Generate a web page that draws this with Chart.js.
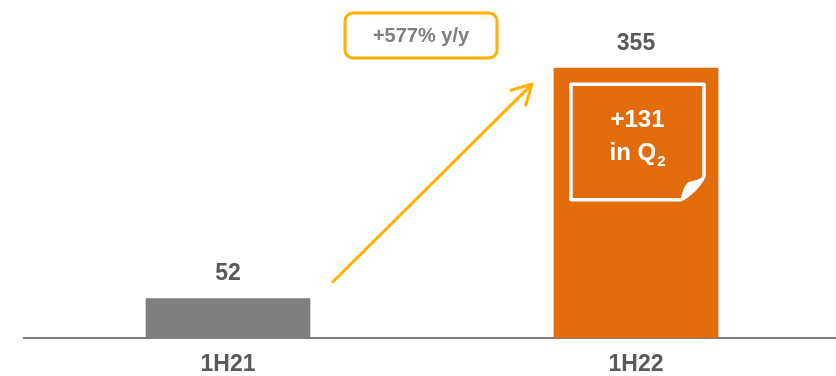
<!DOCTYPE html>
<html>
<head>
<meta charset="utf-8">
<script src="https://cdn.jsdelivr.net/npm/chart.js@4/dist/chart.umd.min.js"></script>
<style>
  html, body { margin: 0; padding: 0; background: #fff; }
  canvas { display: block; }
</style>
</head>
<body>
<canvas id="half-chart" width="836" height="376"></canvas>
<script>
// data
const periods = ['1H21', '1H22']
const values = [52, 355]
const barColors = ['#7f7f7f', '#e36c0a']
const growthLabel = '+577% y/y'
const noteLines = ['+131', 'in Q', '2']

const FONT = '"Liberation Sans", Arial, sans-serif'
const GREY_TEXT = '#595959'
const ARROW = '#ffb000'

// the category axis runs a bit past the right edge of the canvas
const widenAxis = {
  id: 'widenAxis',
  afterLayout(chart) {
    const x = chart.scales.x
    x.right = 840
    x.width = x.right - x.left
    x.configure()
  }
}

// value labels above each bar
const valueLabels = {
  id: 'valueLabels',
  afterDatasetsDraw(chart) {
    const ctx = chart.ctx
    const meta = chart.getDatasetMeta(0)
    ctx.save()
    ctx.font = 'bold 23px ' + FONT
    ctx.fillStyle = GREY_TEXT
    ctx.textAlign = 'center'
    ctx.textBaseline = 'middle'
    meta.data.forEach((bar, i) => {
      ctx.fillText(String(values[i]), bar.x, bar.y - 25)
    })
    ctx.restore()
  }
}

// growth arrow, the y/y box and the sticky note in the big bar
const callouts = {
  id: 'callouts',
  afterDatasetsDraw(chart) {
    const ctx = chart.ctx
    const y = chart.scales.y
    const meta = chart.getDatasetMeta(0)
    const b0 = meta.data[0], b1 = meta.data[1]

    // arrow
    const sx = b0.x + 105, sy = y.getPixelForValue(74)
    const ex = b1.x - 104, ey = y.getPixelForValue(334)
    ctx.save()
    ctx.strokeStyle = ARROW
    ctx.lineWidth = 3
    ctx.lineCap = 'round'
    ctx.lineJoin = 'round'
    ctx.beginPath()
    ctx.moveTo(sx, sy)
    ctx.lineTo(ex, ey)
    ctx.stroke()
    const ang = Math.atan2(ey - sy, ex - sx)
    const hl = 22
    ctx.beginPath()
    ctx.moveTo(ex + hl * Math.cos(ang + Math.PI - 0.5), ey + hl * Math.sin(ang + Math.PI - 0.5))
    ctx.lineTo(ex, ey)
    ctx.lineTo(ex + hl * Math.cos(ang + Math.PI + 0.5), ey + hl * Math.sin(ang + Math.PI + 0.5))
    ctx.stroke()

    // y/y box
    const bx = 345, by = 13, bw = 152, bh = 45
    ctx.lineWidth = 3
    ctx.beginPath()
    ctx.roundRect(bx, by, bw, bh, 8)
    ctx.fillStyle = '#fff'
    ctx.fill()
    ctx.stroke()
    ctx.font = 'bold 20px ' + FONT
    ctx.fillStyle = '#7f7f7f'
    ctx.textAlign = 'center'
    ctx.textBaseline = 'middle'
    ctx.fillText(growthLabel, bx + bw / 2, by + bh / 2 + 1)

    // sticky note
    const nl = b1.x - 65, nr = b1.x + 68
    const nt = y.getPixelForValue(334), nb = y.getPixelForValue(182)
    const f = 23
    ctx.strokeStyle = '#fff'
    ctx.lineWidth = 3.5
    ctx.lineJoin = 'round'
    ctx.beginPath()
    ctx.moveTo(nl, nt)
    ctx.lineTo(nr, nt)
    ctx.lineTo(nr, nb - f)
    ctx.quadraticCurveTo(nr - f * 0.35, nb - f * 0.35, nr - f, nb)
    ctx.lineTo(nl, nb)
    ctx.closePath()
    ctx.stroke()
    // curled corner
    ctx.fillStyle = '#fff'
    ctx.beginPath()
    ctx.moveTo(nr, nb - f)
    ctx.quadraticCurveTo(nr - f * 0.35, nb - f * 0.35, nr - f, nb)
    ctx.quadraticCurveTo(nr - f * 0.9, nb - f * 0.75, nr - f * 0.55, nb - f * 0.8)
    ctx.quadraticCurveTo(nr - f * 0.3, nb - f * 0.85, nr, nb - f)
    ctx.closePath()
    ctx.fill()

    // note text
    const cx = (nl + nr) / 2
    ctx.fillStyle = '#fff'
    ctx.font = 'bold 24px ' + FONT
    ctx.textBaseline = 'alphabetic'
    ctx.textAlign = 'center'
    ctx.fillText(noteLines[0], cx, nt + 43)
    const mainW = ctx.measureText(noteLines[1]).width
    ctx.font = 'bold 15px ' + FONT
    const subW = ctx.measureText(noteLines[2]).width
    const startX = cx - (mainW + subW + 1) / 2
    ctx.textAlign = 'left'
    ctx.font = 'bold 24px ' + FONT
    ctx.fillText(noteLines[1], startX, nt + 76)
    ctx.font = 'bold 15px ' + FONT
    ctx.fillText(noteLines[2], startX + mainW + 1, nt + 82)
    ctx.restore()
  }
}

const chart = new Chart(document.getElementById('half-chart'), {
  type: 'bar',
  data: {
    labels: periods,
    datasets: [{
      data: values,
      backgroundColor: barColors,
      borderWidth: 0,
      barThickness: 164
    }]
  },
  options: {
    responsive: false,
    animation: false,
    devicePixelRatio: 1,
    layout: { padding: { top: 34, left: 24, right: 0, bottom: 0 } },
    plugins: {
      legend: { display: false },
      tooltip: { enabled: false }
    },
    scales: {
      x: {
        grid: { display: false, drawTicks: false },
        border: { display: true, color: '#808080', width: 2 },
        ticks: {
          color: GREY_TEXT,
          padding: 13,
          font: { family: FONT, size: 23, weight: 'bold' }
        },
        afterFit(scale) {
          scale.height = 38
        }
      },
      y: {
        display: false,
        min: 0,
        max: 400
      }
    }
  },
  plugins: [widenAxis, valueLabels, callouts]
})
</script>
</body>
</html>
